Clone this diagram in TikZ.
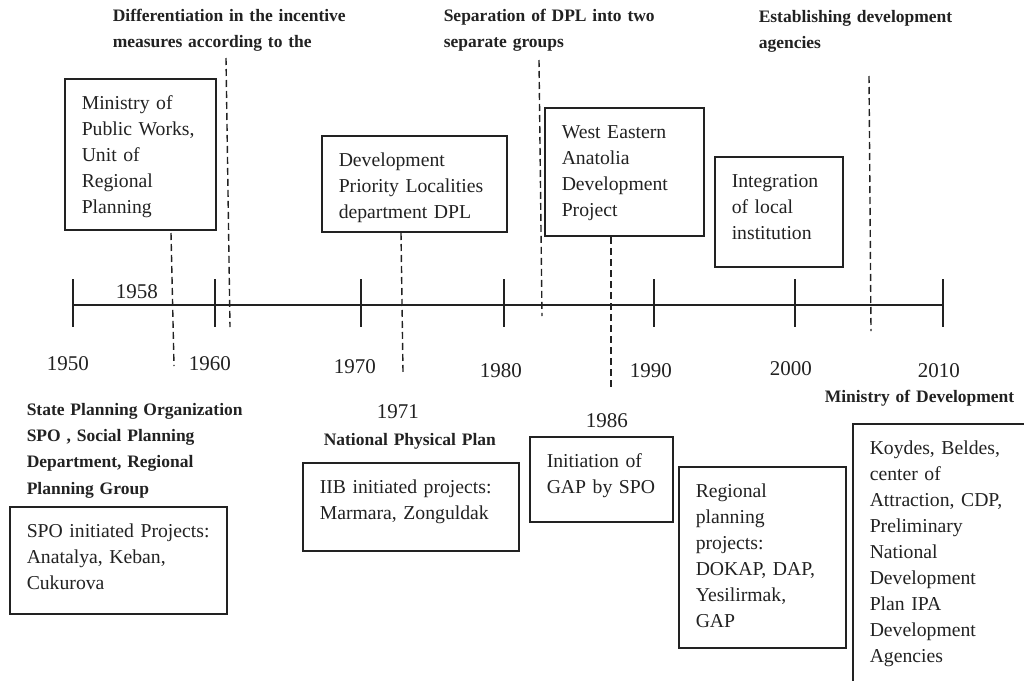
\documentclass[tikz,border=0pt]{standalone}
\usepackage{fontspec}
\setmainfont{Liberation Serif}
\usetikzlibrary{positioning}
\definecolor{ink}{HTML}{222222}
\newcommand{\boxfont}{\fontsize{19.7}{26}\selectfont\hyphenpenalty=10000\exhyphenpenalty=10000}
\newcommand{\yearfont}{\fontsize{21}{26}\selectfont}
\newcommand{\headfont}{\fontsize{17.5}{26.4}\selectfont\bfseries}

\begin{document}
\begin{tikzpicture}[x=1pt, y=-1pt, line width=1.5pt, text=ink]
        \tikzstyle{event}=[draw=ink, line width=1.5pt, anchor=north west, inner xsep=17pt, inner ysep=0pt, align=left, font=\boxfont, text height=30.5pt]
        \tikzstyle{year}=[font=\yearfont, anchor=base west, inner sep=0pt]
        \tikzstyle{head}=[font=\headfont, anchor=base west, align=left, inner sep=0pt, text width=260pt]
        \tikzstyle{guide}=[draw=ink, line width=1.4pt, dash pattern=on 7pt off 4pt]
        \clip (0,0) rectangle (1024,680);
        \fill[white] (0,0) rectangle (1024,680);
        % time axis
        \foreach \name/\x in {t0/73, t1/215, t2/361, t3/504, t4/654, t5/795, t6/943}
            \coordinate (\name) at (\x,305);
        \draw[ink, line width=1.6pt] (t0) -- (t6);
        \foreach \name in {t0, t1, t2, t3, t4, t5, t6}
            \draw[ink, line width=1.6pt] (\name) ++(0,-26) -- ++(0,48);
        % years
        \node[year] (y1950) at (46,370)   {1950};
        \node[year] (y1960) at (188,370)  {1960};
        \node[year] (y1970) at (333,373)  {1970};
        \node[year] (y1980) at (479,377)  {1980};
        \node[year] (y1990) at (629,377)  {1990};
        \node[year] (y2000) at (769,375)  {2000};
        \node[year] (y2010) at (917,377)  {2010};
        \node[year] (y1958) at (115,298)  {1958};
        \node[year] (y1971) at (376,418)  {1971};
        \node[year] (y1986) at (585,427)  {1986};
        % headings
        \node[head] (hdiff)  at (112,21)  {Differentiation in the incentive\\measures according to the};
        \node[head] (hsep)   at (443,21)  {Separation of DPL into two\\separate groups};
        \node[head] (hestab) at (758,22.5) {Establishing development\\agencies};
        \node[head] (hspo)   at (26,415)  {State Planning Organization\\SPO , Social Planning\\Department, Regional\\Planning Group};
        \node[head] (hnpp)   at (323,445) {National Physical Plan};
        \node[head] (hmod)   at (824,402) {Ministry of Development};
        % boxes above the axis
        \node[event, text width=117pt, text depth=120.5pt] (mpw)   at (64,78)   {Ministry of\\Public~Works,\\Unit of\\Regional\\Planning};
        \node[event, text width=151pt, text depth=65.5pt]  (dpl)   at (321,135) {Development\\Priority~Localities\\department~DPL};
        \node[event, text width=125pt, text depth=97.5pt]  (wead)  at (544,107) {West~Eastern\\Anatolia\\Development\\Project};
        \node[event, text width=94pt,  text depth=79.5pt]  (integ) at (714,156) {Integration\\of~local\\institution};
        % boxes below the axis
        \node[event, text width=183pt, text depth=76.5pt]  (spoproj) at (9,506)  {SPO~initiated~Projects:\\Anatalya,~Keban,\\Cukurova};
        \node[event, text width=182pt, text depth=57.5pt]  (iib)     at (302,462) {IIB~initiated~projects:\\Marmara,~Zonguldak};
        \node[event, text width=109pt, text depth=54.5pt]  (gap)     at (529,436) {Initiation~of\\GAP~by~SPO};
        \node[event, text width=133pt, text depth=150.5pt] (regproj) at (678,466) {Regional\\planning\\projects:\\DOKAP,~DAP,\\Yesilirmak,\\GAP};
        \node[event, text width=160pt, text depth=307pt]   (koydes)  at (852,423) {Koydes,~Beldes,\\center~of\\Attraction,~CDP,\\Preliminary\\National\\Development\\Plan~IPA\\Development\\Agencies};
        % dashed guides
        \coordinate (d1a) at (171,233); \coordinate (d1b) at (174,366);
        \coordinate (d2a) at (226,58);  \coordinate (d2b) at (230,327);
        \coordinate (d3a) at (401,233); \coordinate (d3b) at (403,372);
        \coordinate (d4a) at (539,60);  \coordinate (d4b) at (542,316);
        \coordinate (d5a) at (611,237); \coordinate (d5b) at (611,389);
        \coordinate (d6a) at (869,76);  \coordinate (d6b) at (871,331);
        \foreach \g in {d1, d2, d3, d4, d5, d6}
            \draw[guide] (\g a) -- (\g b);
    \end{tikzpicture}
\end{document}
